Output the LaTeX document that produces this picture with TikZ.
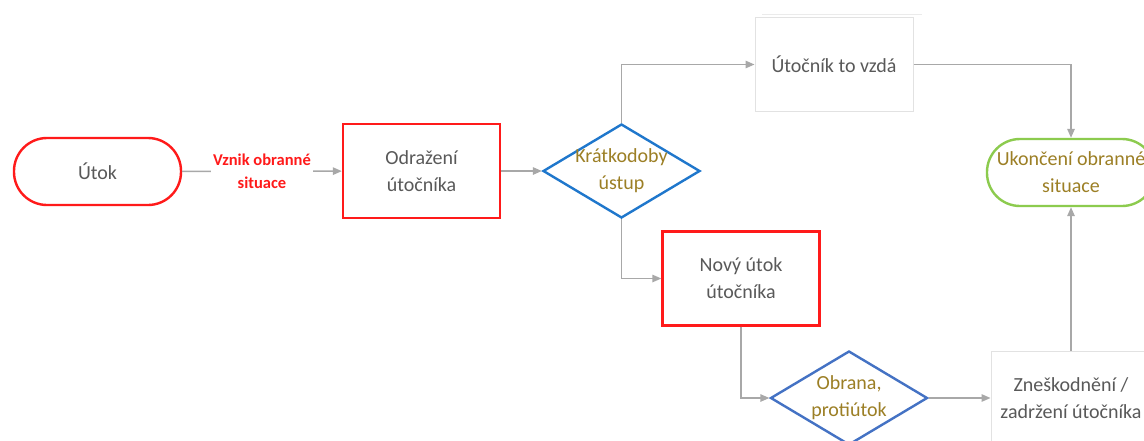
\documentclass[tikz,border=0pt]{standalone}
\usepackage{fontspec}
\setmainfont{Carlito}
\usetikzlibrary{arrows.meta,shapes.geometric}
\definecolor{txtgray}{HTML}{595959}
\definecolor{olivetxt}{HTML}{9C7F25}
\definecolor{linegray}{HTML}{A8A8A8}
\definecolor{boxgray}{HTML}{E2E2E2}
\definecolor{redline}{HTML}{FF1A1A}
\definecolor{blueA}{HTML}{1F77CC}
\definecolor{blueB}{HTML}{4472C4}
\definecolor{greenline}{HTML}{8CCB4E}
\begin{document}
\begin{tikzpicture}[x=1pt,y=-1pt,
  conn/.style={draw=linegray, line width=1.4pt, -{Triangle[length=9pt,width=7.5pt]}},
  maintxt/.style={font=\fontsize{20}{27}\selectfont, align=center},
  redbox/.style={draw=redline, line width=2.4pt, minimum width=157pt, minimum height=94pt, inner sep=0pt},
  graybox/.style={draw=boxgray, line width=1pt, minimum width=158pt, minimum height=94pt, inner sep=0pt},
  stadium/.style={line width=2.4pt, rounded corners=33pt, minimum height=67pt, inner sep=0pt},
  decision/.style={diamond, line width=2.4pt, minimum width=157pt, minimum height=94pt, inner sep=0pt},
  lbl/.style={fill=white, text=redline, font=\bfseries\fontsize{16.5}{23}\selectfont, align=center, inner sep=2pt}]
\clip (0,0) rectangle (1144,440);
\fill[white] (0,0) rectangle (1144,440);

\draw[boxgray!70, line width=1pt] (762,14) -- (922,14);

\node[stadium, draw=redline, minimum width=167pt, maintxt, text=txtgray] (utok) at (97.5,171.5) {Útok};
\node[redbox, maintxt, text=txtgray] (odr) at (421.5,171) {Odražení\\útočníka};
\node[decision, draw=blueA] (kd) at (621.5,171) {};
\node[maintxt, text=olivetxt] (kdt) at (621.5,171) {Krátkodoby\\ústup};
\node[graybox, maintxt, text=txtgray] (vzda) at (834,64.5) {Útočník to vzdá};
\node[stadium, draw=greenline, minimum width=168pt, maintxt, text=olivetxt] (ukon) at (1071,172.5) {Ukončení obranné\\situace};
\node[redbox, maintxt, text=txtgray] (novy) at (741,278.5) {Nový útok\\útočníka};
\node[decision, draw=blueB] (ob) at (849,398) {};
\node[maintxt, text=olivetxt] (obt) at (849,398) {Obrana,\\protiútok};
\node[graybox, minimum width=160pt, maintxt, text=txtgray] (zn) at (1071,398) {Zneškodnění /\\zadržení útočníka};

\draw[conn] (utok) -- node[lbl] (vz) {Vznik obranné\\situace} (odr);
\draw[conn] (odr) -- (kd.west);
\draw[conn] (kd.north) |- (vzda.west);
\draw[conn] (vzda.east) -| (ukon.north);
\draw[conn] (kd.south) |- (novy.west);
\draw[conn] (novy.south) |- (ob.west);
\draw[conn] (ob.east) -- (zn.west);
\draw[conn] (zn.north) -- (ukon.south);
\end{tikzpicture}
\end{document}
